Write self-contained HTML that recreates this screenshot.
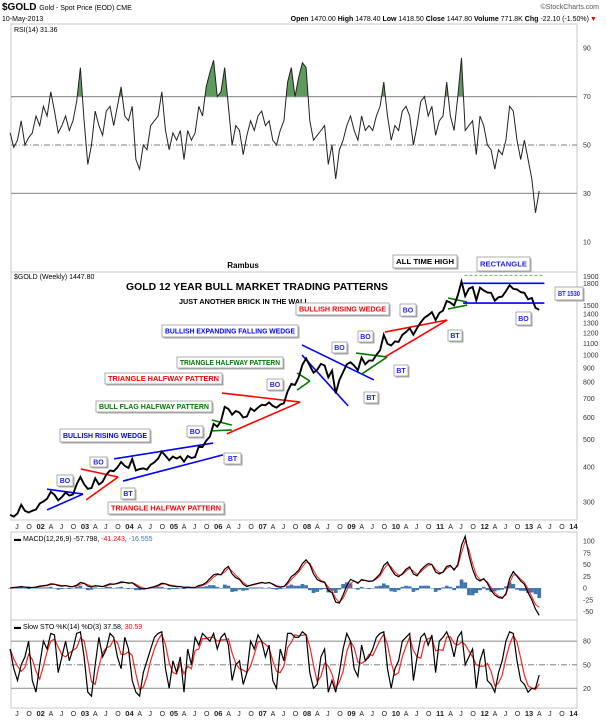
<!DOCTYPE html>
<html><head><meta charset="utf-8">
<style>
html,body{margin:0;padding:0;background:#fff;}
svg{display:block;font-family:"Liberation Sans",sans-serif;}
</style></head>
<body>
<svg id="chart" width="606" height="720" viewBox="0 0 606 720" xmlns="http://www.w3.org/2000/svg">
  <g>
    <text x="2" y="10" font-size="10" font-weight="bold">$GOLD <tspan font-size="7" font-weight="normal">Gold - Spot Price (EOD) CME</tspan></text>
    <text x="2" y="21" font-size="7">10-May-2013</text>
    <text x="599" y="9" font-size="7" fill="#555" text-anchor="end">©StockCharts.com</text>
    <text x="589" y="21" font-size="7" text-anchor="end"><tspan font-weight="bold">Open</tspan> 1470.00 <tspan font-weight="bold">High</tspan> 1478.40 <tspan font-weight="bold">Low</tspan> 1418.50 <tspan font-weight="bold">Close</tspan> 1447.80 <tspan font-weight="bold">Volume</tspan> 771.8K <tspan font-weight="bold">Chg</tspan> -22.10 (-1.50%)</text>
    <text x="590" y="21" font-size="7" fill="#d00">▼</text>
  </g>
  <g id="layer"></g>
</svg>
<script>
// ---- data (monthly, Jun 2001 .. May 2013) ----
const startYear = 2001 + 5/12;
const priceValues = [270,266,273,293,279,275,279,
282,296,301,308,326,318,304,312,324,316,319,347,
368,347,334,336,364,346,354,375,388,386,398,416,
403,396,426,388,393,395,391,407,415,428,453,438,
422,435,428,435,417,437,430,433,473,470,495,513,
569,556,582,654,643,613,632,624,599,604,646,632,
650,665,662,678,659,650,666,673,742,789,783,834,
923,972,916,865,886,930,918,833,880,730,815,869,
927,942,916,883,979,927,955,955,1001,1040,1180,1096,
1081,1118,1113,1179,1207,1245,1181,1248,1307,1357,1386,1421,
1332,1411,1439,1556,1536,1500,1628,1826,1620,1722,1746,1566,
1737,1696,1669,1664,1560,1604,1615,1687,1772,1719,1712,1675,
1663,1578,1595,1472,1448];
const rsiValues = [55,49,52,60,50,53,55,
62,58,66,62,72,64,55,58,62,56,60,68,
82,60,42,50,64,58,54,64,66,58,66,74,
62,60,66,44,40,50,48,58,60,62,72,56,
48,55,52,56,44,56,52,55,66,62,74,80,
85,70,72,82,66,50,58,56,46,54,60,56,
62,64,58,60,52,50,56,60,76,82,70,78,
84,82,60,52,54,56,58,42,50,36,48,52,
58,62,56,52,62,56,58,56,62,66,76,62,
52,58,56,64,66,62,50,58,68,70,62,66,
54,60,62,76,62,56,70,86,56,58,60,46,
62,58,50,48,40,48,46,52,66,64,52,44,
52,44,36,22,31];
const macdValues = [0,1,2,3,2,1,1,
2,4,5,6,9,8,5,4,5,3,3,6,
12,10,4,2,5,4,3,6,9,8,10,13,
12,10,11,5,0,-2,-1,1,3,6,10,9,
5,4,3,3,1,2,1,1,5,7,12,20,
28,30,28,40,46,30,22,18,8,3,6,8,
10,12,10,12,8,3,2,3,12,24,30,38,
52,60,50,30,18,14,12,-5,-10,-30,-32,-15,
5,18,15,10,18,16,14,15,22,30,48,55,
40,28,24,30,40,45,30,26,38,46,52,50,
34,30,34,46,48,38,50,90,110,70,40,20,
15,20,10,-5,-15,-20,-22,-12,20,35,25,15,
8,-10,-25,-45,-58];
const signalValues = [0,0,1,2,2,2,1,
1,3,4,5,7,8,7,5,5,4,3,4,
8,10,7,4,4,4,3,4,7,8,9,11,
12,11,11,8,3,0,-1,0,2,4,8,9,
7,5,4,3,2,2,1,1,3,5,9,15,
23,28,28,34,42,36,27,20,12,6,5,7,
9,11,10,11,9,5,3,3,8,18,26,34,
45,55,53,38,24,16,13,2,-6,-22,-30,-22,
-5,10,15,12,16,16,15,15,19,26,40,50,
45,34,27,28,36,42,36,29,34,42,48,50,
40,33,33,42,46,41,46,75,100,82,52,28,
18,18,13,1,-10,-17,-20,-15,10,28,27,19,
12,-2,-18,-35,-41];
const stoKValues = [70,45,30,50,60,80,30,
15,50,80,70,90,88,40,60,80,55,70,90,
92,60,15,10,50,85,60,70,90,85,60,45,
85,70,30,15,10,40,55,70,85,90,92,45,
20,55,40,60,15,70,50,85,75,90,85,80,
90,70,85,90,75,30,50,55,25,40,80,70,
88,80,60,75,30,20,70,55,90,90,85,85,
92,88,40,20,25,60,70,15,30,15,40,70,
90,80,45,35,75,55,60,70,85,90,92,45,
20,45,55,80,85,90,30,60,85,90,75,88,
40,80,85,92,80,60,85,92,50,60,70,20,
55,70,30,25,15,40,55,80,92,90,55,30,
25,15,20,20,37];
const priceTicks = [300,400,500,600,700,800,900,1000,1100,1200,1300,1400,1500,1800,1900];
const rsiTicks = [10,30,50,70,90];
const macdTicks = [-50,-25,0,25,50,75,100];
const stoTicks = [20,50,80];
const years = [2002,2003,2004,2005,2006,2007,2008,2009,2010,2011,2012,2013,2014];
// trendlines: [t1,p1,t2,p2,color]
const trendLines = [
 [2002.25,333,2003.06,320,'#00f'],[2002.25,281,2003.06,320,'#00f'],
 [2003.01,393,2003.85,368,'#f00'],[2003.13,305,2003.85,368,'#f00'],
 [2003.76,427,2005.99,486,'#00f'],[2003.96,356,2006.21,441,'#00f'],
 [2005.96,587,2006.41,563,'#070'],[2005.96,537,2006.41,541,'#070'],
 [2006.19,732,2007.95,680,'#f00'],[2006.30,524,2007.95,680,'#f00'],
 [2007.88,863,2008.17,808,'#070'],[2007.88,750,2008.17,808,'#070'],
 [2007.99,1086,2009.61,815,'#00f'],[2007.99,1000,2009.03,659,'#00f'],
 [2009.21,1016,2009.91,984,'#070'],[2009.34,856,2009.91,984,'#070'],
 [2009.86,1207,2011.26,1332,'#f00'],[2009.86,984,2011.26,1332,'#f00'],
 [2011.28,1595,2011.71,1544,'#070'],[2011.28,1458,2011.71,1506,'#070'],
 [2011.62,1800,2013.45,1800,'#00f'],[2011.62,1530,2013.45,1530,'#00f']
];
// callout boxes: [x,y,w,h,text,color]
const callouts = [
 [57,475,16,11,'BO','#22f'],[90,457,17,10,'BO','#22f'],[121,488,14,11,'BT','#22f'],
 [108,502,116,12,'TRIANGLE HALFWAY PATTERN','#f00'],[60,429,90,13,'BULLISH RISING WEDGE','#00f'],
 [187,426,16,11,'BO','#22f'],[224,453,17,11,'BT','#22f'],[96,401,116,11,'BULL FLAG HALFWAY PATTERN','#070'],
 [105,373,117,11,'TRIANGLE HALFWAY PATTERN','#f00'],[267,379,16,11,'BO','#22f'],
 [177,357,106,11,'TRIANGLE HALFWAY PATTERN','#070'],[162,325,136,12,'BULLISH EXPANDING FALLING WEDGE','#00f'],
 [332,342,15,11,'BO','#22f'],[358,331,15,11,'BO','#22f'],[364,392,14,11,'BT','#22f'],[394,365,14,11,'BT','#22f'],
 [296,303,93,12,'BULLISH RISING WEDGE','#f00'],[400,304,16,12,'BO','#22f'],[448,330,14,11,'BT','#22f'],
 [393,255,64,13,'ALL TIME HIGH','#000'],[477,257,53,14,'RECTANGLE','#22f'],[555,287,28,13,'BT 1530','#22f'],[516,312,15,13,'BO','#22f']
];

const NS='http://www.w3.org/2000/svg';
const layer=document.getElementById('layer');
function mk(tag,attrs,parent){const e=document.createElementNS(NS,tag);for(const k in attrs)e.setAttribute(k,attrs[k]);(parent||layer).appendChild(e);return e;}
const L=11,R=577;
function xT(t){return 36+44.4*(t-2002);}
function xI(i){return xT(startYear+i/12);}
function yPrice(p){return 355-281*Math.log10(p/1000);}
function yRsi(v){return 266-2.42*v;}
function yMacd(v){return 588-0.47*v;}
function ySto(v){return 704-0.785*v;}
function pts(arr,fy){return arr.map((v,i)=>xI(i).toFixed(1)+','+fy(v).toFixed(1)).join(' ');}

// panels
const panels=[[24,272,'rsi-panel'],[272,520,'price-panel'],[532,620,'macd-panel'],[620,708,'sto-panel']];
panels.forEach(p=>{
  let el=mk('rect',{x:L,y:p[0],width:R-L,height:p[1]-p[0],fill:'#fff',stroke:'#c8c8c8','stroke-width':1});
  
  
});

// RSI
[[70,'none'],[30,'none'],[50,'6,2,1,2']].forEach(r=>{
  let el=mk('line',{x1:L,x2:R,y1:yRsi(r[0]),y2:yRsi(r[0]),stroke:'#999','stroke-width':1.2,'stroke-dasharray':r[1]});
  
  
});
const clip=mk('clipPath',{id:'above70'});
mk('rect',{x:L,y:24,width:R-L,height:yRsi(70)-24},clip);
let rsiFill=mk('polygon',{points:xI(0)+','+yRsi(70)+' '+pts(rsiValues,yRsi)+' '+xI(rsiValues.length-1)+','+yRsi(70),fill:'#5f9a5f','clip-path':'url(#above70)'});


let rsiLine=mk('polyline',{points:pts(rsiValues,yRsi),fill:'none',stroke:'#222','stroke-width':1});


let rsiLbl=mk('text',{x:14,y:32,'font-size':7});
rsiLbl.textContent='RSI(14) 31.36';


rsiTicks.forEach(v=>{
  let t=mk('text',{x:583,y:yRsi(v)+2.5,'font-size':7,fill:'#333'});
  t.textContent=v;
  
  
});

// price
let rb=mk('text',{x:243,y:268,'font-size':8,'font-weight':'bold','text-anchor':'middle'});
rb.textContent='Rambus';


let pl=mk('text',{x:14,y:279,'font-size':7});
pl.textContent='$GOLD (Weekly) 1447.80';


let tt=mk('text',{x:257,y:290,'font-size':10.5,'font-weight':'bold','text-anchor':'middle',textLength:262,lengthAdjust:'spacingAndGlyphs'});
tt.textContent='GOLD 12 YEAR BULL MARKET TRADING PATTERNS';


let st=mk('text',{x:244,y:304,'font-size':7,'font-weight':'bold','text-anchor':'middle',textLength:130,lengthAdjust:'spacingAndGlyphs'});
st.textContent='JUST ANOTHER BRICK IN THE WALL';


priceTicks.forEach(v=>{
  let t=mk('text',{x:583,y:yPrice(v)+2.5,'font-size':7,fill:'#333'});
  t.textContent=v;
  
  
});
let ath=mk('line',{x1:xT(2011.65),x2:xT(2013.45),y1:yPrice(1920),y2:yPrice(1920),stroke:'#88f','stroke-width':1,'stroke-dasharray':'3,2'});


trendLines.forEach(d=>{
  let el=mk('line',{x1:xT(d[0]),y1:yPrice(d[1]),x2:xT(d[2]),y2:yPrice(d[3]),stroke:d[4],'stroke-width':1.6});
  
  
});
let pLine=mk('polyline',{points:pts(priceValues,yPrice),fill:'none',stroke:'#000','stroke-width':1.9});


callouts.forEach(c=>{
  let g=mk('g',{});
  
  
  mk('rect',{x:c[0]+1.5,y:c[1]+1.5,width:c[2],height:c[3],fill:'#aaa'},g);
  mk('rect',{x:c[0],y:c[1],width:c[2],height:c[3],fill:'#fff',stroke:'#999','stroke-width':0.8},g);
  let t=mk('text',{x:c[0]+c[2]/2,y:c[1]+c[3]/2+2.6,'font-size':7,'font-weight':'bold',fill:c[5],'text-anchor':'middle'},g);
  if(c[4].length>3){t.setAttribute('textLength',c[2]-6);t.setAttribute('lengthAdjust','spacingAndGlyphs');}
  t.textContent=c[4];
});

// MACD
const histValues=macdValues.map((v,i)=>v-signalValues[i]);
histValues.forEach((h,i)=>{
  let y0=yMacd(0),y1=yMacd(h*1.2);
  let b=mk('rect',{x:xI(i)-1.8,y:Math.min(y0,y1),width:3.7,height:Math.abs(y1-y0)+0.5,fill:'#3f76b0'});
  
  
});
let sig=mk('polyline',{points:pts(signalValues,yMacd),fill:'none',stroke:'#f22','stroke-width':1});


let mac=mk('polyline',{points:pts(macdValues,yMacd),fill:'none',stroke:'#000','stroke-width':1.2});


let ml=mk('text',{x:14,y:541,'font-size':7});
ml.innerHTML='<tspan font-weight="bold">▬</tspan> MACD(12,26,9) -57.798, <tspan fill="#f00">-41.243</tspan>, <tspan fill="#3f76b0">-16.555</tspan>';


macdTicks.forEach(v=>{
  let t=mk('text',{x:583,y:yMacd(v)+2.5,'font-size':7,fill:'#333'});
  t.textContent=v;
  
  
});

// STO
[[80,'none'],[20,'none'],[50,'6,2,1,2']].forEach(r=>{
  let el=mk('line',{x1:L,x2:R,y1:ySto(r[0]),y2:ySto(r[0]),stroke:'#999','stroke-width':1.2,'stroke-dasharray':r[1]});
  
  
});
const stoDValues=stoKValues.map((v,i)=>{const a=stoKValues.slice(Math.max(0,i-2),i+1);return a.reduce((s,x)=>s+x,0)/a.length;});
let sd=mk('polyline',{points:pts(stoDValues,ySto),fill:'none',stroke:'#f22','stroke-width':1.2});


let sk=mk('polyline',{points:pts(stoKValues,ySto),fill:'none',stroke:'#000','stroke-width':1.2});


let sl=mk('text',{x:14,y:629,'font-size':7});
sl.innerHTML='<tspan font-weight="bold">▬</tspan> Slow STO %K(14) %D(3) 37.58, <tspan fill="#f00">30.59</tspan>';


stoTicks.forEach(v=>{
  let t=mk('text',{x:583,y:ySto(v)+2.5,'font-size':7,fill:'#333'});
  t.textContent=v;
  
  
});

// date axes
[529,716].forEach((yy,ai)=>{
  const items=[[2001.5,'J',false],[2001.75,'O',false]];
  years.forEach(y=>{items.push([y,String(y).slice(2),true]);if(y<2014){items.push([y+0.25,'A',false],[y+0.5,'J',false],[y+0.75,'O',false]);}});
  items.forEach(it=>{
    let t=mk('text',{x:xT(it[0])+(it[2]?0.5:1.5),y:yy,'font-size':it[2]?7.5:7,'font-weight':it[2]?'bold':'normal',fill:'#222'});
    t.textContent=it[1];
    
    
  });
});
</script>
</body></html>
